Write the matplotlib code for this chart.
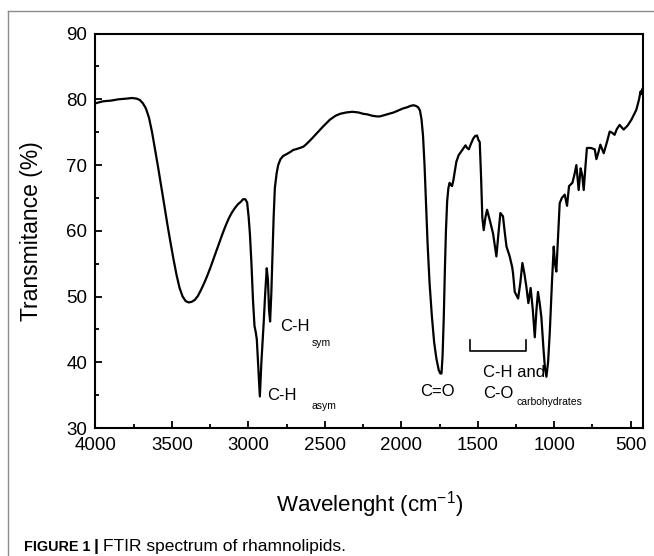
import matplotlib
matplotlib.use('Agg')
import matplotlib.pyplot as plt
from matplotlib.ticker import MultipleLocator
from matplotlib.lines import Line2D

plt.rcParams['font.family'] = ['Liberation Sans', 'DejaVu Sans']

# FTIR spectrum (wavenumber in cm-1, transmittance in %)
wavenumber = [4000, 3950, 3900, 3850, 3800, 3760, 3730, 3710, 3690, 3670, 3650, 3630, 3610,
              3590, 3570, 3550, 3530, 3510, 3490, 3470, 3450, 3430, 3410, 3390, 3370, 3350,
              3330, 3310, 3290, 3270, 3250, 3230, 3210, 3190, 3170, 3150, 3130, 3110, 3090,
              3070, 3050, 3035, 3020, 3008, 2998, 2990, 2980, 2970, 2960, 2952, 2945, 2935,
              2925, 2915, 2900, 2890, 2880, 2872, 2865, 2858, 2850, 2842, 2835, 2827, 2815,
              2805, 2790, 2772, 2755, 2740, 2725, 2707, 2690, 2663, 2640, 2620, 2590, 2554,
              2510, 2467, 2430, 2400, 2360, 2320, 2280, 2250, 2220, 2190, 2160, 2140, 2110,
              2080, 2050, 2020, 1990, 1960, 1940, 1920, 1905, 1890, 1878, 1868, 1858, 1848,
              1838, 1828, 1815, 1800, 1785, 1770, 1755, 1745, 1737, 1730, 1722, 1715, 1708,
              1700, 1692, 1684, 1676, 1668, 1660, 1650, 1640, 1625, 1610, 1595, 1580, 1570,
              1558, 1545, 1530, 1518, 1505, 1495, 1487, 1478, 1470, 1461, 1450, 1439, 1420,
              1400, 1390, 1378, 1365, 1352, 1335, 1322, 1312, 1291, 1275, 1269, 1258, 1236,
              1222, 1208, 1195, 1182, 1169, 1154, 1140, 1127, 1116, 1106, 1095, 1084, 1070,
              1060, 1051, 1040, 1029, 1015, 1003, 995, 986, 975, 964, 950, 931, 916, 903,
              881, 868, 855, 840, 827, 817, 807, 795, 786, 760, 735, 724, 710, 698, 676, 655,
              637, 620, 605, 590, 572, 546, 520, 495, 463, 446, 440, 435, 430, 425, 420]
transmittance = [79.4, 79.7, 79.8, 80.0, 80.1, 80.2, 80.1, 79.9, 79.4, 78.6, 77.2, 75.0, 72.3,
                 69.6, 66.8, 63.9, 61.0, 58.3, 55.7, 53.3, 51.3, 50.0, 49.3, 49.1, 49.2, 49.5,
                 50.1, 51.0, 52.0, 53.1, 54.3, 55.6, 56.9, 58.2, 59.5, 60.7, 61.8, 62.7, 63.4,
                 64.0, 64.4, 64.8, 64.8, 64.3, 62.0, 59.5, 55.0, 49.5, 45.5, 44.6, 43.5, 39.0,
                 34.8, 40.0, 46.0, 50.5, 54.3, 52.5, 48.0, 46.2, 50.5, 56.6, 62.0, 66.5, 68.8,
                 70.0, 70.9, 71.4, 71.6, 71.8, 72.0, 72.3, 72.4, 72.6, 72.8, 73.2, 73.9, 74.8,
                 75.9, 76.9, 77.5, 77.8, 78.0, 78.1, 78.0, 77.8, 77.7, 77.5, 77.4, 77.4, 77.6,
                 77.8, 78.0, 78.3, 78.6, 78.8, 79.0, 79.1, 79.0, 78.8, 78.3, 77.0, 74.5, 70.0,
                 64.0, 58.0, 52.0, 47.0, 43.0, 40.5, 38.8, 38.3, 38.3, 41.0, 47.0, 54.0, 60.0,
                 64.5, 66.5, 67.3, 67.0, 66.8, 67.6, 69.0, 70.5, 71.5, 72.0, 72.5, 73.0, 72.6,
                 72.4, 73.2, 74.0, 74.4, 74.5, 73.8, 73.5, 68.0, 62.0, 60.1, 62.0, 63.2, 61.5,
                 59.6, 58.0, 56.1, 59.5, 62.7, 62.2, 59.5, 57.6, 56.1, 54.5, 53.5, 50.7, 49.7,
                 52.0, 55.1, 53.5, 51.5, 49.0, 51.3, 48.0, 43.8, 48.0, 50.7, 49.0, 46.9, 42.0,
                 39.0, 37.8, 40.0, 44.5, 52.0, 57.6, 55.0, 53.8, 59.0, 64.2, 65.0, 65.5, 63.8, 66.8,
                 67.3, 68.5, 70.0, 66.2, 69.5, 68.5, 66.2, 70.0, 72.6, 72.6, 72.4, 70.9, 72.0, 73.1, 71.8, 73.5,
                 75.1, 74.9, 74.6, 75.5, 76.1, 75.4, 76.0, 76.9, 78.4, 79.9, 80.6, 81.2, 80.8, 81.5, 81.7]

# band labels and their small subscripts
band_text = ['C-H', 'C-H', 'C=O', 'C-H and', 'C-O']
band_x = [2794, 2879, 1879, 1467, 1467]
band_y = [45.4, 35.0, 35.5, 38.4, 35.3]
sub_text = ['sym', 'asym', 'carbohydrates']
sub_x = [2583, 2590, 1246]
sub_y = [43.0, 33.3, 34.0]

bracket_x = [1552, 1552, 1182, 1182]
bracket_y = [43.4, 41.7, 41.7, 43.4]

fig = plt.figure(figsize=(6.54, 5.56), dpi=100)
ax = fig.add_axes([0.146, 0.2302, 0.837, 0.7094])

ax.plot(wavenumber, transmittance, color='black', lw=1.6)
ax.plot(bracket_x, bracket_y, color='black', lw=1.2)

for t, x, y in zip(band_text, band_x, band_y):
    ax.text(x, y, t, fontsize=12, ha='left', va='center')
for t, x, y in zip(sub_text, sub_x, sub_y):
    ax.text(x, y, t, fontsize=7.5, ha='left', va='center')

ax.set_xlim(4000, 420)
ax.set_ylim(30, 90)
ax.xaxis.set_major_locator(MultipleLocator(500))
ax.xaxis.set_minor_locator(MultipleLocator(250))
ax.yaxis.set_major_locator(MultipleLocator(10))
ax.yaxis.set_minor_locator(MultipleLocator(5))
ax.tick_params(which='both', direction='in', top=False, right=False, labelsize=13.5, width=1.3)
ax.tick_params(which='major', length=5)
ax.tick_params(which='minor', length=3)
ax.tick_params(axis='x', which='major', pad=6.5)
ax.tick_params(axis='y', which='major', pad=6)
for s in ax.spines.values():
    s.set_linewidth(1.5)

ax.set_xlabel('Wavelenght (cm$^{\\mathregular{-1}}$)', fontsize=16, labelpad=25)
ax.set_ylabel('Transmitance (%)', fontsize=16.5, labelpad=17)

# frame around the figure panel
fig.add_artist(Line2D([8/654, 8/654], [0, 1 - 11/556], color='#8c8c8c', lw=1.0))
fig.add_artist(Line2D([8/654, 1], [1 - 11/556, 1 - 11/556], color='#8c8c8c', lw=1.0))

cap_y = 1 - 547/556
fig.text(24/654, cap_y, 'FIGURE 1', fontsize=10.4, fontweight='bold', va='center', ha='left')
fig.text(94/654, cap_y, '|', fontsize=12.5, fontweight='bold', va='center', ha='left')
fig.text(103/654, cap_y, 'FTIR spectrum of rhamnolipids.', fontsize=12.5,
         va='center', ha='left')

fig.savefig('out.png', dpi=100)
